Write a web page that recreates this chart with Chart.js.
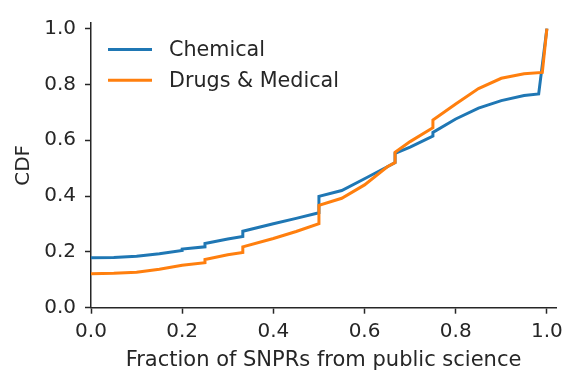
<!DOCTYPE html>
<html>
<head>
<meta charset="utf-8">
<script src="https://cdn.jsdelivr.net/npm/chart.js@4"></script>
<style>
  html, body { margin: 0; padding: 0; background: #ffffff; }
  #wrap { width: 579px; height: 387px; }
</style>
</head>
<body>
<div id="wrap"><canvas id="c" width="579" height="387"></canvas></div>
<script>
// ---- data ----
const seriesNames = ['Chemical', 'Drugs & Medical'];
const seriesColors = ['#1f77b4', '#ff7f0e'];

const chemX = [0, 0.05, 0.1, 0.15, 0.2, 0.2, 0.25, 0.25, 0.3, 0.333, 0.333, 0.4, 0.45, 0.5, 0.5, 0.55, 0.6, 0.65, 0.667, 0.667, 0.7, 0.75, 0.75, 0.8, 0.85, 0.9, 0.95, 0.982, 1.0];
const chemY = [0.179, 0.180, 0.184, 0.193, 0.205, 0.210, 0.218, 0.230, 0.246, 0.255, 0.274, 0.301, 0.320, 0.340, 0.399, 0.420, 0.462, 0.505, 0.520, 0.553, 0.575, 0.615, 0.628, 0.676, 0.715, 0.742, 0.760, 0.766, 1.0];

const drugX = [0, 0.05, 0.1, 0.15, 0.2, 0.25, 0.25, 0.3, 0.333, 0.333, 0.4, 0.45, 0.5, 0.5, 0.55, 0.6, 0.65, 0.667, 0.667, 0.7, 0.75, 0.75, 0.8, 0.85, 0.9, 0.95, 0.99, 1.0];
const drugY = [0.122, 0.123, 0.127, 0.138, 0.152, 0.161, 0.173, 0.190, 0.198, 0.218, 0.248, 0.273, 0.301, 0.367, 0.392, 0.440, 0.505, 0.520, 0.557, 0.595, 0.645, 0.672, 0.730, 0.785, 0.822, 0.838, 0.843, 1.0];

const tickValues = [0, 0.2, 0.4, 0.6, 0.8, 1.0];
const xTitle = 'Fraction of SNPRs from public science';
const yTitle = 'CDF';

// ---- chart ----
const FONT = 'DejaVu Sans';
const TXT = '#262626';

const toPts = (xs, ys) => xs.map((x, i) => ({ x: x, y: ys[i] }));

const insideLegend = {
  id: 'insideLegend',
  afterDraw(chart) {
    const ctx = chart.ctx;
    const a = chart.chartArea;
    ctx.save();
    ctx.font = '20.7px "' + FONT + '"';
    ctx.textBaseline = 'middle';
    ctx.textAlign = 'left';
    chart.data.datasets.forEach((ds, i) => {
      const y = a.top + 26.6 + i * 30.7;
      ctx.strokeStyle = ds.borderColor;
      ctx.lineWidth = 3;
      ctx.beginPath();
      ctx.moveTo(a.left + 17, y);
      ctx.lineTo(a.left + 61, y);
      ctx.stroke();
      ctx.fillStyle = TXT;
      ctx.fillText(ds.label, a.left + 78, y + 1);
    });
    ctx.restore();
  }
};

const keepTicks = (scale) => {
  scale.ticks = tickValues.map(v => ({ value: v }));
};

new Chart(document.getElementById('c'), {
  type: 'line',
  data: {
    datasets: [
      { label: seriesNames[0], data: toPts(chemX, chemY), borderColor: seriesColors[0], backgroundColor: seriesColors[0], borderWidth: 3, pointRadius: 0, tension: 0, fill: false, order: 2 },
      { label: seriesNames[1], data: toPts(drugX, drugY), borderColor: seriesColors[1], backgroundColor: seriesColors[1], borderWidth: 3, pointRadius: 0, tension: 0, fill: false, order: 1 }
    ]
  },
  options: {
    responsive: false,
    animation: false,
    devicePixelRatio: 1,
    layout: { padding: { left: 12, right: 23, top: 23, bottom: 14 } },
    plugins: { legend: { display: false }, tooltip: { enabled: false } },
    scales: {
      x: {
        type: 'linear',
        min: 0, max: 1.02,
        afterBuildTicks: keepTicks,
        afterFit: (s) => { s.height = 387 - 14 - 307.7; },
        grid: { display: true, drawOnChartArea: false, drawTicks: true, tickLength: 6, tickWidth: 1.5, tickColor: TXT },
        border: { display: true, color: TXT, width: 1.5 },
        ticks: { color: TXT, font: { family: FONT, size: 20 }, padding: 6, maxRotation: 0, callback: v => Number(v).toFixed(1) },
        title: { display: true, text: xTitle, color: TXT, font: { family: FONT, size: 21 }, padding: { top: 0, bottom: 0 } }
      },
      y: {
        type: 'linear',
        min: 0, max: 1.02,
        afterBuildTicks: keepTicks,
        afterFit: (s) => { s.width = 91 - 12; },
        grid: { display: true, drawOnChartArea: false, drawTicks: true, tickLength: 6, tickWidth: 1.5, tickColor: TXT },
        border: { display: true, color: TXT, width: 1.5 },
        ticks: { color: TXT, font: { family: FONT, size: 20 }, padding: 9, callback: v => Number(v).toFixed(1) },
        title: { display: true, text: yTitle, color: TXT, font: { family: FONT, size: 20 }, padding: { top: 0, bottom: 0 } }
      }
    }
  },
  plugins: [insideLegend]
});
</script>
</body>
</html>
